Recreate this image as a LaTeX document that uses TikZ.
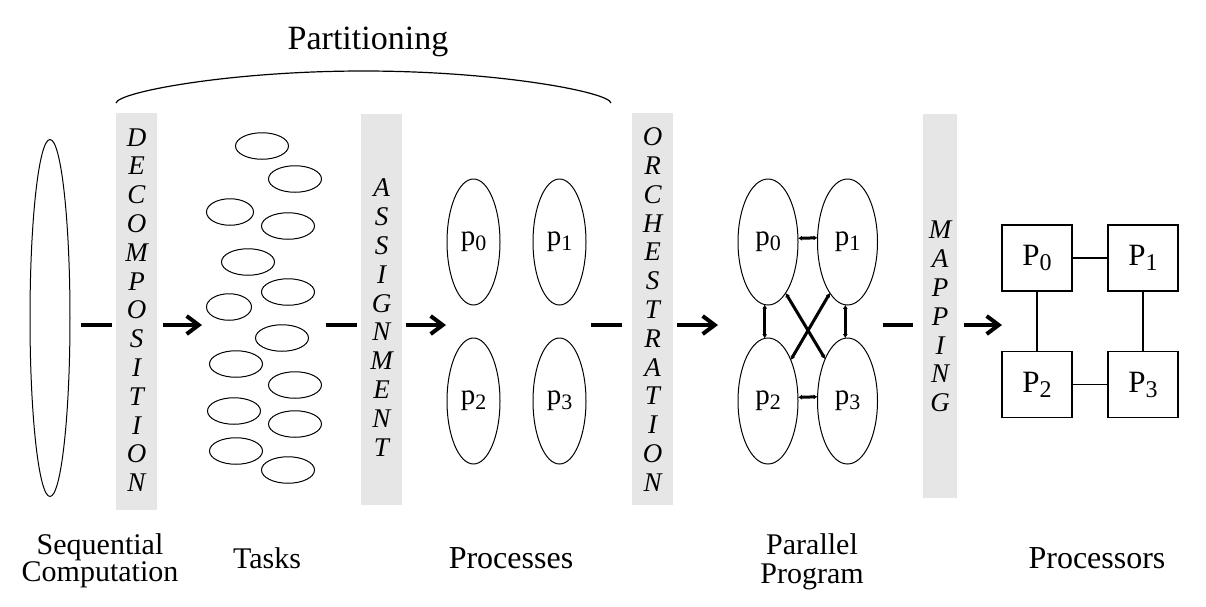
\documentclass[tikz,border=0pt]{standalone}
\usepackage{fontspec}
\setmainfont{Liberation Serif}
\usetikzlibrary{shapes.geometric,arrows.meta}
\definecolor{bandgray}{HTML}{E6E6E6}
\newcommand\lowsub[1]{\raisebox{-0.35ex}{\fontsize{11}{11}\selectfont #1}}
\newcommand\bigsub[1]{\raisebox{-0.35ex}{\fontsize{12}{12}\selectfont #1}}
\begin{document}
\begin{tikzpicture}[x=0.5pt,y=-0.5pt,
  every node/.style={inner sep=0pt, outer sep=0pt},
  oval/.style={draw, ellipse, line width=0.5pt},
  task/.style={oval, minimum width=26.5pt, minimum height=13.25pt},
  proc/.style={oval, minimum width=26.5pt, minimum height=63pt, font=\fontsize{14.5}{14.5}\selectfont},
  parproc/.style={oval, minimum width=30pt, minimum height=63pt, font=\fontsize{14.5}{14.5}\selectfont},
  band/.style={fill=bandgray},
  stage/.style={font=\itshape\fontsize{13.5}{14.4}\selectfont, align=center},
  flowdash/.style={line width=2pt},
  flowarrow/.style={line width=2pt, -{Straight Barb[length=6pt,width=9pt]}},
  link/.style={line width=1.5pt, {Latex[length=2pt,width=2.5pt]}-{Latex[length=2pt,width=2.5pt]}},
  pbox/.style={draw, line width=0.6pt, minimum width=35pt, minimum height=33pt, font=\fontsize{15.5}{15.5}\selectfont},
  captxt/.style={font=\fontsize{15}{13.5}\selectfont, align=center},
  captbig/.style={font=\fontsize{16}{16}\selectfont}
]
\useasboundingbox (0,0) rectangle (1206,606);
\coordinate (mid) at (0,325);

% Partitioning
\node[font=\fontsize{17}{17}\selectfont] (part) at (368,42) {Partitioning};
\coordinate (arcL) at (116,103);
\coordinate (arcR) at (611,103);
\draw[line width=0.6pt] (arcL) .. controls (118,92) and (230,71) .. (363.5,71) .. controls (497,71) and (609,92) .. (arcR);

% sequential
\node[oval, minimum width=20pt, minimum height=178.5pt] (seq) at (50,318) {};

% bands
\node[band, minimum width=20.5pt, minimum height=198.5pt] (dec) at (136.5,311.5) {};
\node[stage] (decl) at (136.5,310) {D\\E\\C\\O\\M\\P\\O\\S\\I\\T\\I\\O\\N};
\node[band, minimum width=20.5pt, minimum height=195.5pt] (asg) at (381.5,309.5) {};
\node[stage] (asgl) at (381.5,317.5) {A\\S\\S\\I\\G\\N\\M\\E\\N\\T};
\node[band, minimum width=20.5pt, minimum height=196pt] (orch) at (652.5,309) {};
\node[stage] (orchl) at (652.5,309.5) {O\\R\\C\\H\\E\\S\\T\\R\\A\\T\\I\\O\\N};
\node[band, minimum width=17pt, minimum height=192pt] (map) at (940,306) {};
\node[stage] (mapl) at (940,316.5) {M\\A\\P\\P\\I\\N\\G};

% tasks
\node[task] (t1) at (262,146) {};
\node[task] (t2) at (295,179) {};
\node[task, minimum width=23.5pt] (t3) at (230,212) {};
\node[task] (t4) at (288,226) {};
\node[task] (t5) at (248,262) {};
\node[task] (t6) at (288,292) {};
\node[task, minimum width=22.5pt] (t7) at (229,307) {};
\node[task] (t8) at (282,338) {};
\node[task] (t9) at (236,364) {};
\node[task] (t10) at (295,385) {};
\node[task] (t11) at (234,411) {};
\node[task] (t12) at (295,424) {};
\node[task] (t13) at (236,451) {};
\node[task] (t14) at (288,470) {};

% processes
\node[proc] (pr0) at (473.5,242) {p\lowsub{0}};
\node[proc] (pr1) at (559.5,242) {p\lowsub{1}};
\node[proc] (pr2) at (473.5,401) {p\lowsub{2}};
\node[proc] (pr3) at (559.5,401) {p\lowsub{3}};

% parallel program
\node[parproc] (q0) at (768,242) {p\lowsub{0}};
\node[parproc] (q1) at (847.5,242) {p\lowsub{1}};
\node[parproc] (q2) at (768,401) {p\lowsub{2}};
\node[parproc] (q3) at (847.5,401) {p\lowsub{3}};
\draw[link] (q0.7) -- (q1.172);
\draw[link] (q2.7) -- (q3.172);
\draw[link] (q0.-93) -- (q2.93);
\draw[link] (q1.-92) -- (q3.92);
\draw[link] (q0.-71) -- (q3.118);
\draw[link] (q1.-109) -- (q2.61);

% processors
\node[pbox] (b0) at (1037,258) {P\bigsub{0}};
\node[pbox] (b1) at (1143,258) {P\bigsub{1}};
\node[pbox] (b2) at (1037,384.5) {P\bigsub{2}};
\node[pbox] (b3) at (1143,384.5) {P\bigsub{3}};
\draw[line width=0.6pt] (b0) -- (b1);
\draw[line width=0.6pt] (b2) -- (b3);
\draw[line width=0.6pt] (b0) -- (b2);
\draw[line width=0.6pt] (b1) -- (b3);

% flow
\draw[flowdash, shorten <=5.5pt, shorten >=2pt] (seq.east |- mid) -- (dec.west |- mid);
\draw[flowarrow, shorten <=3pt, shorten >=2.25pt] (dec.east |- mid) -- (t7.west |- mid);
\draw[flowdash, shorten <=2.25pt, shorten >=2pt] (t10.east |- mid) -- (asg.west |- mid);
\draw[flowarrow, shorten <=2pt, shorten >=0.5pt] (asg.east |- mid) -- (pr0.west |- mid);
\draw[flowdash, shorten <=2.5pt, shorten >=5pt] (pr1.east |- mid) -- (orch.west |- mid);
\draw[flowarrow, shorten <=2pt, shorten >=10pt] (orch.east |- mid) -- (q0.west |- mid);
\draw[flowdash, shorten <=2.5pt, shorten >=5pt] (q1.east |- mid) -- (map.west |- mid);
\draw[flowarrow, shorten <=3.5pt] (map.east |- mid) -- (b0.west |- mid);

% captions
\node[captxt] (c1) at (100,561) {Sequential\\Computation};
\node[font=\fontsize{15}{15}\selectfont] (c2) at (267,558) {Tasks};
\node[captbig] (c3) at (511,558) {Processes};
\node[captxt, font=\fontsize{15}{14.5}\selectfont] (c4) at (812,562) {Parallel\\Program};
\node[captbig] (c5) at (1097,558) {Processors};
\end{tikzpicture}
\end{document}
